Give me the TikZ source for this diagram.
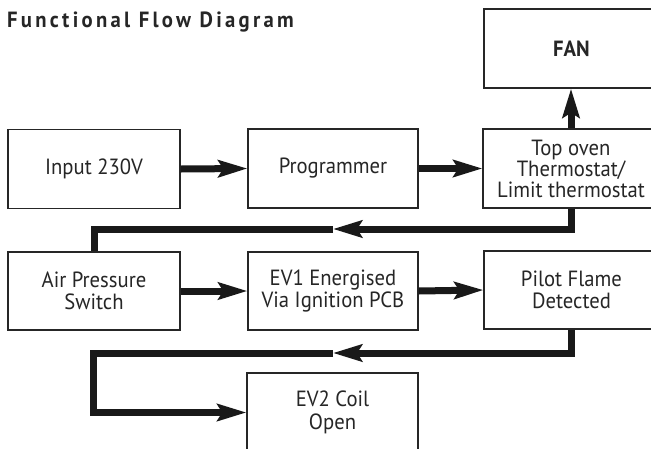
\documentclass[tikz,border=0pt]{standalone}
\usepackage{fontspec}
\setmainfont{PT Sans}[FakeStretch=0.94]
\usetikzlibrary{arrows.meta,positioning,calc}
\tikzset{
  box/.style={draw=black!85, line width=1.3pt, fill=white, minimum height=79pt,
    inner sep=0pt, align=center, font=\fontsize{22}{22.5}\selectfont, text=black!85},
  conn/.style={line width=7pt, draw=black!90, line join=miter},
  tip/.style={-{Stealth[length=29pt,width=17pt,inset=5pt]}}
}
\begin{document}
\begin{tikzpicture}[x=1pt,y=-1pt]
\useasboundingbox (0,0) rectangle (651,448);
\clip (0,0) rectangle (651,448);
\node[anchor=base west, font=\fontsize{22}{24}\selectfont\bfseries\addfontfeatures{LetterSpace=15}, text=black!85, inner sep=0pt] (title) at (7,27) {Functional Flow Diagram};
\node[box, minimum width=175pt] (fan) at (571.5,48.5) {\bfseries FAN};
\node[box, minimum width=172pt] (input) at (94,169) {Input 230V};
\node[box, minimum width=170pt] (prog) at (333,168.5) {Programmer};
\node[box, minimum width=176pt, font=\fontsize{22}{21}\selectfont] (top) at (571,168.5) {Top oven\\Thermostat/\\Limit thermostat};
\node[box, minimum width=172pt, minimum height=78pt] (air) at (94,291) {Air Pressure\\Switch};
\node[box, minimum width=170pt, minimum height=78pt] (ev1) at (333,291) {EV1 Energised\\Via Ignition PCB};
\node[box, minimum width=175pt, minimum height=78pt] (pilot) at (571.5,290) {Pilot Flame\\Detected};
\node[box, minimum width=171pt] (ev2) at (332.5,412.5) {EV2 Coil\\Open};
\coordinate (m1) at (333,229);
\coordinate (m2) at (333,353);
\coordinate (b2) at (93,353);
\draw[conn,tip] (input.east) -- (prog.west);
\draw[conn,tip] (prog.east) -- (top.west);
\draw[conn,tip] (top.north) -- (top.north |- fan.south);
\draw[conn,tip] (top.south) |- (m1);
\draw[conn] (m1) -| (air.north);
\draw[conn,tip] (air.east) -- (ev1.west);
\draw[conn,tip] (ev1.east) -- (pilot.west);
\draw[conn,tip] (pilot.south) |- (m2);
\draw[conn,tip] (m2) -- (b2) |- (ev2.west);
\end{tikzpicture}
\end{document}
